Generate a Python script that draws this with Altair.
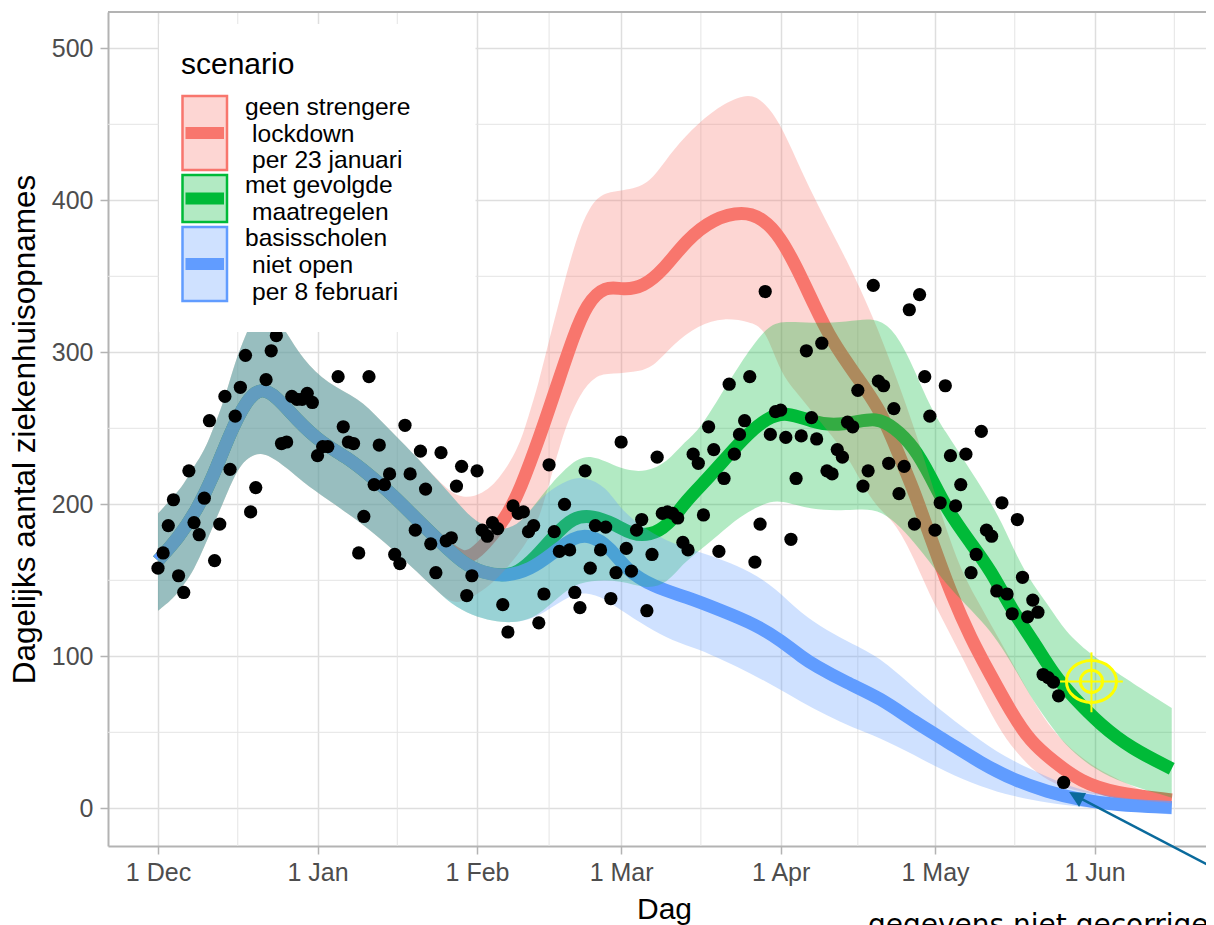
import altair as alt
import pandas as pd

# ---- axis
tick_dagen = [0, 31, 62, 90, 121, 151, 182]
tick_labels = ["1 Dec", "1 Jan", "1 Feb", "1 Mar", "1 Apr", "1 May", "1 Jun"]
minor_dagen = [15.5, 46.5, 76, 105.5, 136, 166.5, 197.5]
y_ticks = [0, 100, 200, 300, 400, 500]
minor_y = [50, 150, 250, 350, 450]

# ---- observed points
punt_dag = [0,1,2,3,4,5,6,7,8,9,10,11,12,13,14,15,16,17,18,19,21,22,23,24,25,26,27,28,29,30,31,32,33,35,36,37,38,39,40,41,42,43,44,45,46,47,48,49,50,51,52,53,54,55,56,57,58,59,60,61,62,63,64,65,66,67,68,69,70,71,72,73,74,75,76,77,78,79,80,81,82,83,84,85,86,87,88,89,90,91,92,93,94,95,96,97,98,99,100,101,102,103,104,105,106,107,108,109,110,111,112,113,114,115,116,117,118,119,120,121,122,123,124,125,126,127,128,129,130,131,132,133,134,135,136,137,138,139,140,141,142,143,144,145,146,147,148,149,150,151,152,153,154,155,156,157,158,159,160,161,162,163,164,165,166,167,168,169,170,171,172,173,174,175,176]
punt_waarde = [158,168,186,203,153,142,222,188,180,204,255,163,187,271,223,258,277,298,195,211,282,301,311,240,241,271,269,269,273,267,232,238,238,284,251,241,240,168,192,284,213,239,213,220,167,161,252,220,183,235,210,174,155,234,176,178,212,225,140,153,222,183,179,188,184,134,116,199,194,195,182,186,122,141,226,182,169,200,170,142,132,222,158,186,170,185,138,155,241,171,156,183,190,130,167,231,194,195,194,191,175,170,233,227,193,251,236,169,217,279,233,246,255,284,162,187,340,246,261,262,244,177,217,245,301,257,243,306,222,220,236,231,254,251,275,212,222,344,281,278,227,263,207,225,328,187,338,284,258,183,201,278,232,199,213,233,155,167,248,183,179,143,201,141,128,190,152,126,137,129,88,86,83,74,17]

# ---- lines
rood_dag = [0,4,7.5,10.7,14,17.2,20,23,27,31.5,36.7,41.2,45.7,50.3,54.8,59.3,62,65.8,68,70.3,74.2,78.1,80.7,83.3,86.9,90.4,94.3,98.2,102.7,107.9,113.7,117.6,120.9,124.1,127.4,131,135.8,140.4,143.6,146.9,149.4,152,154,157.9,161.8,165.7,169.5,174.1,179.3,185.8,197]
rood_waarde = [163,178,196,218,247,268.6,277,271,255.5,241,231,219,206,190,175.4,163,168,183,194,209,244.5,284,310,332,344,341,343,354,374,388,393,388,376,356,332,307,284,262,235.7,209,185,161,142.5,112,87.7,63.6,43.8,30.7,17.5,10,5.5]
groen_dag = [0,4,7.5,10.7,14,17.2,20,23,27,31.5,36.7,41.2,45.7,50.3,54.8,59.3,63.2,67,70,73.5,76.8,80.7,84.5,88.4,92.3,95.6,98.9,102.7,106.6,110.5,114.4,118.3,122.1,127.3,131.2,135.7,139.5,143,146.9,150.2,153.4,157.9,161.8,166,170.2,174.1,178,183.2,189,197]
groen_waarde = [163,178,196,218,247,268.6,277,271,255.5,241,231,219,206,190,175.4,161,154.8,153,155,165.5,178.7,192,192.5,187.6,179.8,179.8,185,202.8,216,231,245.6,256.8,261,254,252,254,257,251,238,218,196,174.6,156.8,130,109.6,87.7,72.6,54.8,39.7,26]
blauw_dag = [0,4,7.5,10.7,14,17.2,20,23,27,31.5,36.7,41.2,45.7,50.3,54.8,59.3,63.2,67.4,72.3,76.8,80.7,84,87.8,91,96.2,102.7,109.2,116.3,120.9,125.4,127.5,133.9,140.4,146.9,153.4,159.9,166.3,172.8,179.3,185.8,197]
blauw_waarde = [163,178,196,218,247,268.6,277,271,255.5,241,231,219,206,190,175.4,161,154.8,152.4,156.8,168,178.5,180,172,156.8,145.8,139,130.5,120.6,110.7,98.9,94.3,82.4,72.6,57,43.8,29.8,18.6,10.9,5.5,2.2,0.5]

# ---- ribbons
rood_lint_dag = [0,3,5,7,9,11,13,15,17,20,23,25,28,33,39,43,48,53,57,60,63,66,70,72,74,76,79,82,85,88,94,97,100,105,110,115,118,121,124,128,134,139,143,147,150,153,156,159,163,166,170,174,179,184,192,197]
rood_boven = [194,205,213,225,235,252,270,294,311,335,322,313,296,279,270,256,239,221,207,204,207,215,236,258,280,308,347,383,402,406,408,418,433,451,464,471,464,450,427,398,360,323,288,250,218,185,157,138,114,96,71,50,34,23,10,8]
rood_onder = [130,138,147,157,172,188,204,220,230,235,229,224,215,203,189,178,163,147,134,137,143,151,167,177,190,213,250,273,285,286,287,293,305,318,323,320,316,286,274,257,233,199,190,164,140,121,101,81,55,40,25,16,11,8,4.5,3.5]

groen_lint_dag = [0,3,5,7,9,11,13,15,17,20,23,25,28,33,39,43,48,53,57,61,65,69,72,75,80,84,90,95,99,102,105,109,113,118,121,127,134,139,142.5,146,150,153,157,161,164,167,170,174,177,184,197]
groen_boven = [194,205,213,225,235,252,270,294,311,335,322,313,296,279,270,256,239,221,206,190,183,184,194,208,227,234,222.5,221,228,240,248,270,292,316,321,319,320,323,317,297,264,248,227,206,188,165,147,129,113,94,66]
groen_onder = [130,138,147,157,172,188,204,220,230,235,229,224,215,203,189,178,163,147,134,127,123,122,124,130,146,150,150,144,148,161,169,180,192,201,203,196,196,197.5,191,179,162,148,134,120,106,89,71,52,39,20,7]

blauw_lint_dag = [0,3,5,7,9,11,13,15,17,20,23,25,28,33,39,43,48,53,57,61,65,69,72,75,80,83,87,90,95,100,105,110,115,120,125,130,135,140,147,153,160,166,173,179,186,197]
blauw_boven = [194,205,213,225,235,252,270,294,311,335,322,313,296,279,270,256,239,221,206,190,183,184,194,207,217,218,212,196,183,174,169,163,156,145,128,117,108,100,79,62,44,31,20.5,12,7.5,3]
blauw_onder = [130,138,147,157,172,188,204,220,230,235,229,224,215,203,189,178,163,147,134,127,123,122,124,128.5,140,142.5,138,130,119.5,110,105,97,89,80,70,61,53,47,35,24,14,8,3.5,1,-1,-4]

# ---- legend
kleur_rood, kleur_groen, kleur_blauw = "#F8766D", "#00BA38", "#619CFF"
legend_kleuren = [kleur_rood, kleur_groen, kleur_blauw]
legend_regels = [
    ["geen strengere", "lockdown", "per 23 januari"],
    ["met gevolgde", "maatregelen"],
    ["basisscholen", "niet open", "per 8 februari"],
]

X = alt.Scale(domain=[-9.716, 203.66], nice=False, zero=False)
Y = alt.Scale(domain=[-24.8, 523.9], nice=False, zero=False)
FONT = "Liberation Sans"
labelexpr = "[" + ",".join(f"'{t}'" for t in tick_labels) + "][indexof(" + str(tick_dagen) + ",datum.value)]"

x_axis = alt.Axis(values=tick_dagen, labelExpr=labelexpr, title="Dag", titleFont=FONT, titleFontSize=30,
                  titleFontWeight="normal", titleColor="#000000", labelFont=FONT, labelFontSize=25,
                  labelColor="#4d4d4d", labelPadding=6, tickColor="#b3b3b3", tickSize=8, tickWidth=1.5,
                  domainColor="#b3b3b3", domainWidth=2, gridColor="#dedede", gridWidth=1.5,
                  titleX=556, titleY=48, labelOverlap=False, labelFlush=False)
y_axis = alt.Axis(values=y_ticks, title="Dagelijks aantal ziekenhuisopnames", titleFont=FONT, titleFontSize=31.5,
                  titleFontWeight="normal", titleColor="#000000", labelFont=FONT, labelFontSize=25,
                  labelColor="#4d4d4d", labelPadding=7, tickColor="#b3b3b3", tickSize=8, tickWidth=1.5,
                  domainColor="#b3b3b3", domainWidth=2, gridColor="#dedede", gridWidth=1.5,
                  titleX=-67, titleY=417, labelOverlap=False)


def ex(field="dag"):
    return alt.X(f"{field}:Q", scale=X, axis=x_axis)


def ey(field="waarde"):
    return alt.Y(f"{field}:Q", scale=Y, axis=y_axis)


layers = []

# minor gridlines
layers.append(alt.Chart(pd.DataFrame({"dag": minor_dagen})).mark_rule(color="#e4e4e4", strokeWidth=1).encode(x=ex()))
layers.append(alt.Chart(pd.DataFrame({"waarde": minor_y})).mark_rule(color="#e4e4e4", strokeWidth=1).encode(y=ey()))

# lines first, ribbons above them
for d, v, c in [(rood_dag, rood_waarde, kleur_rood), (groen_dag, groen_waarde, kleur_groen), (blauw_dag, blauw_waarde, kleur_blauw)]:
    layers.append(alt.Chart(pd.DataFrame({"dag": d, "waarde": v})).mark_line(
        color=c, strokeWidth=13, interpolate="basis", strokeCap="butt", strokeJoin="round"
    ).encode(x=ex(), y=ey()))

for d, b, o, c in [(rood_lint_dag, rood_boven, rood_onder, kleur_rood),
                   (groen_lint_dag, groen_boven, groen_onder, kleur_groen),
                   (blauw_lint_dag, blauw_boven, blauw_onder, kleur_blauw)]:
    layers.append(alt.Chart(pd.DataFrame({"dag": d, "waarde": b, "onder": o})).mark_area(
        color=c, opacity=0.3, interpolate="basis"
    ).encode(x=ex(), y=ey(), y2=alt.Y2("onder:Q")))

# observed points
layers.append(alt.Chart(pd.DataFrame({"dag": punt_dag, "waarde": punt_waarde})).mark_point(
    filled=True, color="#000000", opacity=1, size=175, shape="circle"
).encode(x=ex(), y=ey()))

one = alt.Data(values=[{"a": 1}])

# target marker (yellow)
doel = pd.DataFrame({"dag": [181.4], "waarde": [83.5]})
ellips = "M -1 0 A 1 0.84 0 1 0 1 0 A 1 0.84 0 1 0 -1 0 Z"
layers.append(alt.Chart(doel).mark_point(shape=ellips, size=2500, filled=False, color="#FFFF00", strokeWidth=3, opacity=1).encode(x=ex(), y=ey()))
layers.append(alt.Chart(doel).mark_point(shape="circle", size=490, filled=False, color="#FFFF00", strokeWidth=3, opacity=1).encode(x=ex(), y=ey()))
layers.append(alt.Chart(pd.DataFrame({"dag": [175.3], "dag2": [187.5], "waarde": [83.5]})).mark_rule(color="#FFFF00", strokeWidth=2).encode(x=ex(), x2=alt.X2("dag2:Q"), y=ey()))
layers.append(alt.Chart(pd.DataFrame({"dag": [181.4], "waarde": [102.6], "w2": [63.2]})).mark_rule(color="#FFFF00", strokeWidth=2).encode(x=ex(), y=ey(), y2=alt.Y2("w2:Q")))

# arrow and note
pijl_kleur = "#0A6A9C"
layers.append(alt.Chart(pd.DataFrame({"dag": [178.8], "dag2": [205.2], "waarde": [7.4], "w2": [-39.3]})).mark_rule(color=pijl_kleur, strokeWidth=2.5).encode(
    x=ex(), x2=alt.X2("dag2:Q"), y=ey(), y2=alt.Y2("w2:Q")))
layers.append(alt.Chart(pd.DataFrame({"dag": [178.8], "waarde": [7.4]})).mark_point(
    shape="M -9 -5 L 8 -4 L 1 10 Z", size=4, filled=True, color=pijl_kleur, opacity=1).encode(x=ex(), y=ey()))
layers.append(alt.Chart(one).mark_text(font="DejaVu Sans", fontSize=28, align="left", baseline="alphabetic", color="#000000").encode(
    x=alt.value(760), y=alt.value(921.5), text=alt.value("gegevens niet gecorrigeerd")))

# panel top edge
layers.append(alt.Chart(one).mark_rule(color="#b3b3b3", strokeWidth=2).encode(x=alt.value(0), x2=alt.value(1098), y=alt.value(0)))

# manual legend (white box, keys, labels)
layers.append(alt.Chart(one).mark_rect(color="#ffffff").encode(x=alt.value(51), x2=alt.value(367.5), y=alt.value(12), y2=alt.value(320)))
layers.append(alt.Chart(one).mark_text(font=FONT, fontSize=30, align="left", baseline="alphabetic", color="#000000").encode(
    x=alt.value(73), y=alt.value(62), text=alt.value("scenario")))

key_boven = [84, 163, 215]
key_onder = [158, 210, 289]
regel_basis = [[103, 130, 156], [181, 208], [234, 261, 288]]
for kleur, top, bot, regels, basis in zip(legend_kleuren, key_boven, key_onder, legend_regels, regel_basis):
    layers.append(alt.Chart(one).mark_rect(fill=kleur, fillOpacity=0.3, stroke=kleur, strokeWidth=2.5).encode(
        x=alt.value(74.5), x2=alt.value(119), y=alt.value(top), y2=alt.value(bot)))
    mid = (top + bot) / 2
    layers.append(alt.Chart(one).mark_rect(color=kleur).encode(
        x=alt.value(77.5), x2=alt.value(116), y=alt.value(mid - 6), y2=alt.value(mid + 6)))
    for i, (r, b) in enumerate(zip(regels, basis)):
        layers.append(alt.Chart(one).mark_text(font=FONT, fontSize=24.6, align="left", baseline="alphabetic", color="#000000").encode(
            x=alt.value(137 if i == 0 else 144), y=alt.value(b), text=alt.value(r)))

chart = alt.layer(*layers).properties(
    width=1098, height=834,
    autosize=alt.AutoSizeParams(type="none"),
    padding={"left": 100, "top": 4, "right": 0, "bottom": 79},
    background="#ffffff",
).configure_view(stroke=None)

chart.save("out.html", embed_options={"renderer": "svg", "actions": False})
